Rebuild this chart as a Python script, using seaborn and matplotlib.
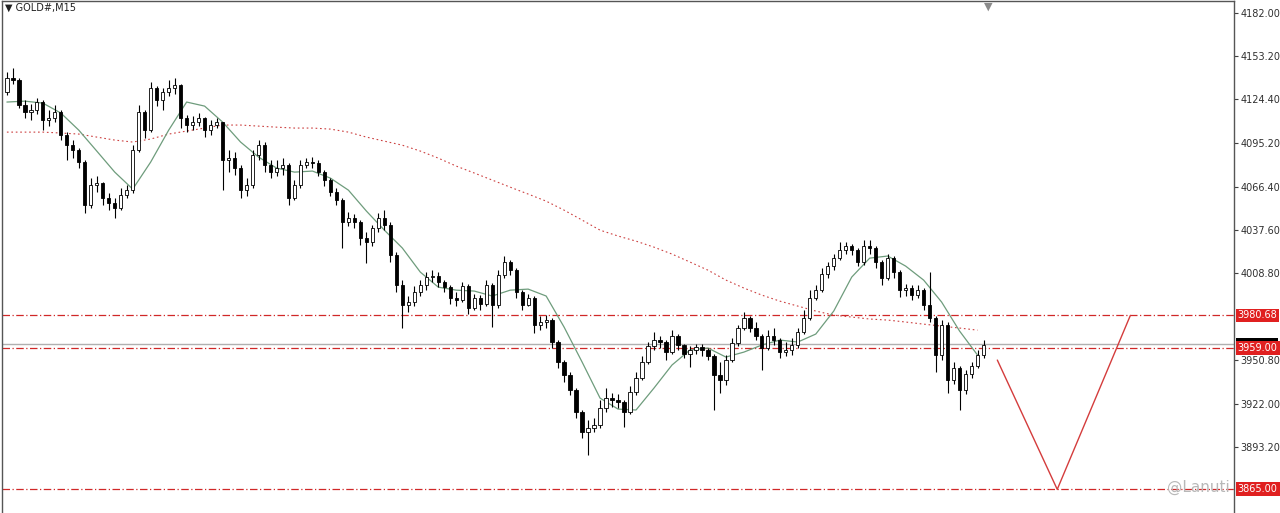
import numpy as np
import pandas as pd
import matplotlib
matplotlib.use('Agg')
import matplotlib.pyplot as plt
import matplotlib.transforms as mtransforms
from matplotlib.patches import Rectangle
import seaborn as sns

# --- chart data (GOLD#, M15) ---
first_open = 4129.2

closes = [
    4138.5, 4137.2, 4120.6, 4115.9, 4117.2, 4122.6, 4110.6, 4111.9, 4115.9, 4100.6,
    4093.9, 4090.6, 4082.7, 4054.0, 4067.3, 4068.7, 4058.7, 4055.4, 4052.1, 4060.7,
    4064.0, 4090.6, 4115.9, 4103.9, 4131.9, 4123.9, 4129.2, 4131.9, 4133.9, 4111.9,
    4107.3, 4109.3, 4111.9, 4103.9, 4107.3, 4109.3, 4084.0, 4085.3, 4078.7, 4064.0,
    4067.3, 4087.3, 4093.9, 4080.6, 4076.0, 4078.7, 4080.6, 4058.7, 4067.3, 4080.6,
    4082.7, 4082.0, 4076.0, 4070.7, 4062.7, 4057.4, 4042.8, 4045.4, 4042.8, 4032.1,
    4029.5, 4038.8, 4045.4, 4040.7, 4020.8, 4000.9, 3987.6, 3989.6, 3996.2, 4000.9,
    4006.2, 4006.9, 4002.9, 3999.5, 3992.2, 3990.9, 4000.2, 3985.6, 3992.2, 3988.2,
    4000.9, 3987.6, 4007.5, 4016.2, 4010.8, 3996.2, 3987.6, 3992.2, 3974.3, 3976.3,
    3977.6, 3963.0, 3949.7, 3941.0, 3931.1, 3916.4, 3903.1, 3905.8, 3907.8, 3919.1,
    3925.7, 3924.4, 3923.1, 3916.4, 3929.7, 3939.0, 3949.7, 3960.3, 3964.3, 3963.0,
    3956.3, 3967.0, 3961.0, 3955.0, 3957.7, 3959.6, 3957.7, 3953.7, 3941.0, 3937.7,
    3951.0, 3962.3, 3972.3, 3978.9, 3972.3, 3967.0, 3959.0, 3967.0, 3964.3, 3956.3,
    3957.7, 3961.0, 3969.6, 3978.9, 3992.2, 3997.5, 4008.2, 4013.5, 4018.8, 4024.1,
    4026.8, 4024.1, 4016.2, 4026.8, 4025.5, 4016.2, 4005.5, 4018.8, 4009.5, 3997.5,
    3998.9, 3994.2, 3997.5, 3987.6, 3978.9, 3954.3, 3974.3, 3937.7, 3945.7, 3931.1,
    3941.7, 3947.0, 3954.3, 3961.0,
]

highs = [
    4142.5, 4145.2, 4138.5, 4123.9, 4121.2, 4125.2, 4123.9, 4117.2, 4120.6, 4117.2,
    4102.6, 4097.3, 4092.0, 4084.0, 4072.0, 4073.4, 4069.4, 4062.1, 4058.7, 4065.4,
    4067.3, 4093.9, 4120.6, 4117.2, 4135.9, 4133.2, 4131.9, 4137.2, 4138.5, 4134.5,
    4113.9, 4113.3, 4115.3, 4112.6, 4110.6, 4111.9, 4109.3, 4090.6, 4089.3, 4080.6,
    4072.0, 4090.6, 4097.3, 4096.0, 4084.0, 4084.0, 4085.3, 4082.0, 4070.7, 4084.0,
    4085.3, 4086.0, 4084.0, 4077.3, 4072.0, 4065.4, 4058.7, 4049.4, 4048.1, 4044.1,
    4036.1, 4040.7, 4048.8, 4050.7, 4042.8, 4022.8, 4004.2, 3993.6, 4000.2, 4004.2,
    4009.5, 4010.8, 4009.5, 4004.2, 4000.9, 3996.2, 4002.9, 4001.5, 3994.9, 3994.2,
    4004.2, 4002.2, 4010.8, 4020.2, 4017.5, 4012.2, 3997.5, 3994.9, 3993.6, 3980.3,
    3980.9, 3978.9, 3964.3, 3951.0, 3943.0, 3932.4, 3917.8, 3911.1, 3912.4, 3924.4,
    3932.4, 3929.1, 3928.4, 3924.4, 3933.7, 3943.0, 3953.7, 3963.0, 3969.6, 3967.0,
    3964.3, 3970.9, 3968.3, 3961.6, 3960.3, 3961.6, 3961.6, 3959.0, 3955.0, 3949.7,
    3954.3, 3965.6, 3974.3, 3982.9, 3980.3, 3976.3, 3968.3, 3970.9, 3972.3, 3965.6,
    3963.0, 3965.6, 3972.3, 3984.2, 3997.5, 4000.9, 4012.2, 4016.2, 4021.5, 4029.5,
    4029.5, 4028.1, 4025.5, 4030.8, 4030.8, 4026.8, 4017.5, 4021.5, 4020.2, 4010.8,
    4001.5, 4000.9, 4000.9, 3998.9, 4009.5, 3980.3, 3977.6, 3976.3, 3949.7, 3947.0,
    3944.4, 3949.7, 3957.7, 3964.3,
]

lows = [
    4127.2, 4134.5, 4118.6, 4111.9, 4110.6, 4114.6, 4103.9, 4106.6, 4109.3, 4097.3,
    4084.0, 4085.3, 4078.7, 4048.8, 4052.1, 4062.7, 4054.0, 4050.7, 4045.4, 4050.7,
    4058.7, 4062.1, 4089.3, 4098.6, 4102.6, 4119.9, 4117.2, 4126.6, 4127.9, 4105.3,
    4102.6, 4103.9, 4106.6, 4099.3, 4100.6, 4105.3, 4064.0, 4076.0, 4074.0, 4058.7,
    4060.1, 4065.4, 4084.0, 4076.0, 4072.0, 4073.4, 4074.0, 4054.0, 4057.4, 4065.4,
    4078.7, 4078.7, 4073.4, 4066.7, 4060.1, 4054.0, 4025.5, 4040.1, 4038.8, 4027.4,
    4015.5, 4026.8, 4036.1, 4037.4, 4016.2, 3996.2, 3972.3, 3982.9, 3986.9, 3993.6,
    3997.5, 4002.9, 3999.5, 3996.2, 3988.2, 3986.9, 3989.6, 3981.6, 3984.2, 3984.2,
    3986.9, 3972.9, 3985.6, 4005.5, 4007.5, 3992.2, 3984.2, 3986.9, 3969.0, 3970.9,
    3972.3, 3959.0, 3945.7, 3936.4, 3927.7, 3912.4, 3899.1, 3887.8, 3903.1, 3905.8,
    3916.4, 3919.7, 3919.1, 3906.4, 3915.1, 3927.7, 3937.7, 3948.3, 3957.7, 3959.0,
    3951.0, 3955.0, 3957.7, 3952.3, 3946.3, 3955.0, 3953.7, 3951.0, 3917.8, 3929.1,
    3934.4, 3949.7, 3960.3, 3970.9, 3969.6, 3964.3, 3944.4, 3957.7, 3961.0, 3952.3,
    3953.7, 3954.3, 3959.0, 3968.3, 3977.6, 3990.9, 3996.2, 4005.5, 4010.8, 4017.5,
    4021.5, 4020.8, 4013.5, 4014.2, 4021.5, 4012.2, 4000.9, 4004.2, 4005.5, 3992.9,
    3993.6, 3990.9, 3992.2, 3984.2, 3976.3, 3943.0, 3951.0, 3929.1, 3935.0, 3917.8,
    3928.4, 3939.0, 3945.7, 3952.3,
]

# moving averages, read every 3rd bar
ma_step = 3
ma_fast = [
    4122.6, 4123.2, 4121.9, 4115.3, 4103.9, 4090.0, 4076.0, 4064.7, 4082.7, 4103.9,
    4122.6, 4119.9, 4109.3, 4096.0, 4086.0, 4078.7, 4076.0, 4076.7, 4072.0, 4064.0,
    4050.1, 4037.4, 4025.5, 4009.5, 3999.5, 3997.5, 3996.9, 3993.6, 3997.5, 3998.2,
    3993.6, 3972.9, 3949.7, 3925.7, 3918.4, 3917.8, 3932.4, 3947.7, 3957.7, 3959.0,
    3953.0, 3956.3, 3961.0, 3964.3, 3963.0, 3968.3, 3983.6, 4006.2, 4018.8, 4020.2,
    4013.5, 4004.2, 3989.6, 3970.3, 3954.3,
]
ma_slow = [
    4102.6, 4102.6, 4102.6, 4102.0, 4101.3, 4099.3, 4097.3, 4096.0, 4098.0, 4101.3,
    4103.3, 4105.3, 4107.3, 4107.3, 4106.6, 4105.9, 4105.3, 4105.3, 4104.6, 4102.6,
    4099.3, 4096.6, 4093.9, 4090.0, 4085.3, 4080.0, 4075.4, 4070.7, 4066.0, 4061.4,
    4056.7, 4050.7, 4044.1, 4037.4, 4033.5, 4030.1, 4026.1, 4021.5, 4016.2, 4010.8,
    4004.2, 3998.9, 3994.2, 3990.2, 3986.9, 3983.6, 3980.9, 3979.6, 3978.3, 3977.6,
    3976.3, 3974.9, 3973.6, 3972.3, 3970.9,
]

level_prices = [3980.68, 3959.00, 3865.00]
level_labels = ['3980.68', '3959.00', '3865.00']
bid_price = 3961.5

tick_prices = [4182.00, 4153.20, 4124.40, 4095.20, 4066.40, 4037.60, 4008.80,
               3950.80, 3922.00, 3893.20]
tick_labels = ['4182.00', '4153.20', '4124.40', '4095.20', '4066.40', '4037.60',
               '4008.80', '3950.80', '3922.00', '3893.20']

# hand-drawn projection: bar positions and prices of the V
v_bars = [165.3, 175.3, 187.5]
v_prices = [3951.0, 3865.0, 3980.68]

# --- build frame ---
df = pd.DataFrame({'close': closes, 'high': highs, 'low': lows})
df['bar'] = np.arange(len(df))
df['open'] = [first_open] + closes[:-1]
df['high'] = np.maximum(df['high'], df[['open', 'close']].max(axis=1))
df['low'] = np.minimum(df['low'], df[['open', 'close']].min(axis=1))
df['up'] = df['close'] >= df['open']

ma_bars = np.arange(len(ma_fast)) * ma_step

# --- plot ---
sns.set_style('white')
plt.rcParams['font.family'] = ['DejaVu Sans']

fig = plt.figure(figsize=(12.8, 5.13), dpi=100)
ax = fig.add_axes([0.0015, 0.0, 1234 / 1280 - 0.0015, 512 / 513])

# level lines
for p in level_prices:
    ax.axhline(p, color='#d02828', lw=0.9, linestyle=(0, (6, 2, 1, 2)), zorder=1)
ax.axhline(bid_price, color='#b0b0b0', lw=1.0, zorder=1)

# moving averages
sns.lineplot(x=ma_bars, y=ma_slow, ax=ax, color='#cc4040', lw=0.8,
             linestyle=(0, (1.5, 2.5)), zorder=2)
sns.lineplot(x=ma_bars, y=ma_fast, ax=ax, color='#6e9c7c', lw=0.9, zorder=2)

# candles
ax.vlines(df['bar'], df['low'], df['high'], color='black', lw=0.8, zorder=3)
body = (df['close'] - df['open']).abs().clip(lower=0.4)
ax.bar(df['bar'], body, bottom=df[['open', 'close']].min(axis=1), width=0.55,
       color=np.where(df['up'], 'white', 'black'), edgecolor='black',
       linewidth=0.6, zorder=4)

# projection V
ax.plot(v_bars, v_prices, color='#d43c3c', lw=1.0, zorder=5)

ax.set_xlim(-0.83, 204.8)
ax.set_ylim(3849.3, 4189.8)
ax.set_xticks([])
ax.yaxis.tick_right()
ax.set_yticks(tick_prices)
ax.set_yticklabels(tick_labels)
ax.tick_params(axis='y', labelsize=7, length=3, pad=1.5, color='#404040',
               labelcolor='#303030', right=True)
ax.set_xlabel('')
ax.set_ylabel('')

for side in ['top', 'left', 'right']:
    ax.spines[side].set_visible(True)
    ax.spines[side].set_color('#555555')
    ax.spines[side].set_linewidth(1.0)
ax.spines['bottom'].set_visible(False)

# price tags on the scale
trans = mtransforms.blended_transform_factory(ax.transAxes, ax.transData)
ax.add_patch(Rectangle((1.002, bid_price - 2.0), 0.034, 6.5, transform=trans,
                       facecolor='black', edgecolor='none', clip_on=False,
                       zorder=6))
for p, lab in zip(level_prices, level_labels):
    ax.text(1.003, p, lab, transform=trans, fontsize=7, color='white',
            va='center', ha='left', clip_on=False, zorder=7,
            bbox=dict(boxstyle='square,pad=0.2', fc='#e02020', ec='none'))

# header and marks
fig.text(0.004, 0.984, '\u25BC GOLD#,M15', fontsize=7, color='#202020',
         va='center', ha='left')
fig.text(0.772, 0.996, '\u25BC', fontsize=8, color='#8a8a8a',
         va='top', ha='center')
fig.text(0.912, 0.05, '@Lanuti', fontsize=11, color='#b8b8b8',
         va='center', ha='left')

fig.savefig('out.png', dpi=100)
